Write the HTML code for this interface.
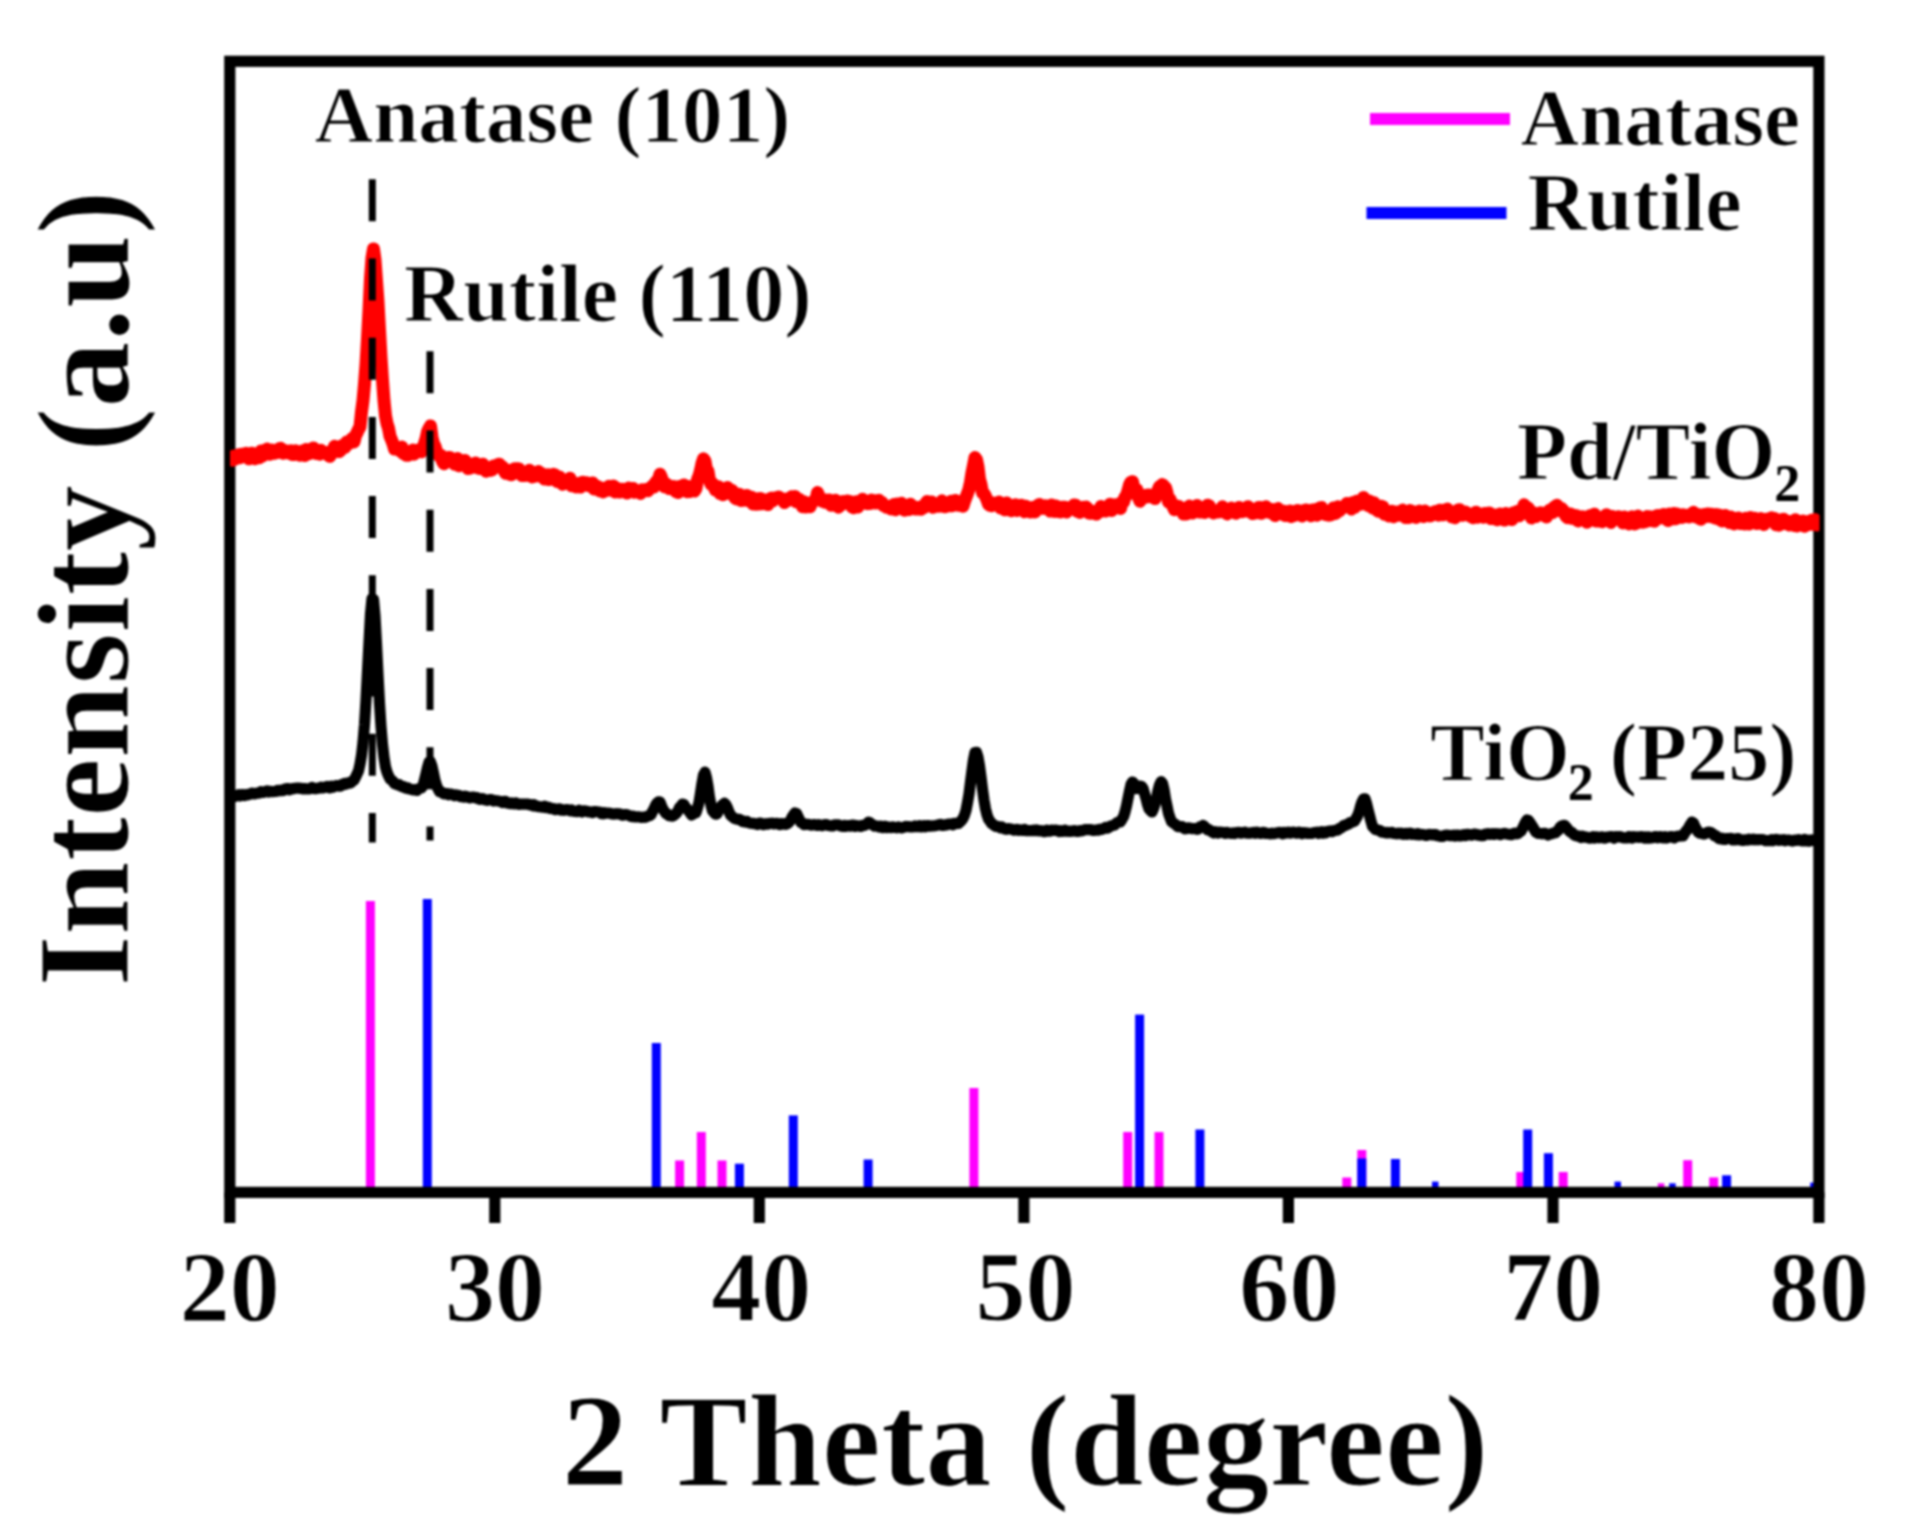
<!DOCTYPE html>
<html lang="en"><head><meta charset="utf-8"><title>XRD patterns of Pd/TiO2 and TiO2 (P25)</title>
<style>
html,body{margin:0;padding:0;background:#fff;}
body{width:1906px;height:1538px;overflow:hidden;}
svg{display:block;}
text{font-family:"Liberation Serif",serif;font-weight:bold;fill:#000;stroke:#fff;stroke-width:1.1px;}
.t82{font-size:82px;}
.sub{font-size:52px;stroke:none;}
.tick{font-size:100px;text-anchor:middle;}
.axis{font-size:132px;}
.t81{font-size:81.2px;}
</style></head><body>
<svg width="1906" height="1538" viewBox="0 0 1906 1538">
<rect x="0" y="0" width="1906" height="1538" fill="#ffffff"/>
<defs><filter id="soft" x="0" y="0" width="100%" height="100%" filterUnits="userSpaceOnUse" color-interpolation-filters="sRGB"><feGaussianBlur stdDeviation="1.0"/></filter></defs>
<g filter="url(#soft)">
<rect x="0" y="0" width="1906" height="1538" fill="#ffffff"/>
<g id="sticks">
<rect x="365.9" y="901.0" width="9.0" height="291.4" fill="#ff00ff"/>
<rect x="675.1" y="1160.5" width="9.0" height="31.9" fill="#ff00ff"/>
<rect x="696.8" y="1132.0" width="9.0" height="60.4" fill="#ff00ff"/>
<rect x="717.5" y="1160.5" width="9.0" height="31.9" fill="#ff00ff"/>
<rect x="969.4" y="1088.0" width="9.0" height="104.4" fill="#ff00ff"/>
<rect x="1123.2" y="1132.0" width="9.0" height="60.4" fill="#ff00ff"/>
<rect x="1154.5" y="1132.0" width="9.0" height="60.4" fill="#ff00ff"/>
<rect x="1342.3" y="1177.5" width="9.0" height="14.9" fill="#ff00ff"/>
<rect x="1357.3" y="1150.0" width="9.0" height="42.4" fill="#ff00ff"/>
<rect x="1516.3" y="1172.0" width="9.0" height="20.4" fill="#ff00ff"/>
<rect x="1558.7" y="1172.0" width="9.0" height="20.4" fill="#ff00ff"/>
<rect x="1657.8" y="1183.3" width="6.5" height="9.1" fill="#ff00ff"/>
<rect x="1683.2" y="1160.2" width="9.0" height="32.2" fill="#ff00ff"/>
<rect x="1709.2" y="1177.4" width="9.0" height="15.0" fill="#ff00ff"/>
<rect x="422.8" y="899.0" width="9.0" height="293.4" fill="#0000ff"/>
<rect x="651.8" y="1043.0" width="9.0" height="149.4" fill="#0000ff"/>
<rect x="734.9" y="1163.7" width="9.0" height="28.7" fill="#0000ff"/>
<rect x="788.8" y="1115.4" width="9.0" height="77.0" fill="#0000ff"/>
<rect x="863.6" y="1159.5" width="9.0" height="32.9" fill="#0000ff"/>
<rect x="1135.1" y="1014.6" width="9.0" height="177.8" fill="#0000ff"/>
<rect x="1195.4" y="1129.5" width="9.0" height="62.9" fill="#0000ff"/>
<rect x="1357.3" y="1158.5" width="9.0" height="33.9" fill="#0000ff"/>
<rect x="1390.9" y="1159.0" width="9.0" height="33.4" fill="#0000ff"/>
<rect x="1432.0" y="1181.6" width="6.5" height="10.8" fill="#0000ff"/>
<rect x="1523.2" y="1129.5" width="9.0" height="62.9" fill="#0000ff"/>
<rect x="1543.9" y="1153.2" width="9.0" height="39.2" fill="#0000ff"/>
<rect x="1614.5" y="1181.6" width="6.5" height="10.8" fill="#0000ff"/>
<rect x="1669.2" y="1183.3" width="6.5" height="9.1" fill="#0000ff"/>
<rect x="1722.1" y="1175.3" width="9.0" height="17.1" fill="#0000ff"/>
<rect x="1810.2" y="1182.6" width="6.5" height="9.8" fill="#0000ff"/>
</g>
<g id="frame" stroke="#000" fill="none" stroke-width="11.2">
<rect x="229.8" y="61.3" width="1589.1" height="1131.1"/>
<line x1="229.8" y1="1192.4" x2="229.8" y2="1223.0"/>
<line x1="494.8" y1="1192.4" x2="494.8" y2="1223.0"/>
<line x1="759.3" y1="1192.4" x2="759.3" y2="1223.0"/>
<line x1="1023.9" y1="1192.4" x2="1023.9" y2="1223.0"/>
<line x1="1288.4" y1="1192.4" x2="1288.4" y2="1223.0"/>
<line x1="1553.0" y1="1192.4" x2="1553.0" y2="1223.0"/>
<line x1="1818.9" y1="1192.4" x2="1818.9" y2="1223.0"/>
</g>
<defs><clipPath id="plotclip"><rect x="230" y="60" width="1589.5" height="1140"/></clipPath></defs>
<g clip-path="url(#plotclip)">
<path id="black-curve" d="M229.5 796.5 L231.0 796.7 L232.5 796.3 L234.0 796.4 L235.5 796.3 L237.0 795.2 L238.5 794.7 L240.0 795.9 L241.5 794.9 L243.0 794.5 L244.5 795.5 L246.0 794.6 L247.5 794.9 L249.0 794.2 L250.5 794.1 L252.0 793.1 L253.5 793.6 L255.0 793.9 L256.5 793.1 L258.0 793.2 L259.5 792.9 L261.0 791.7 L262.5 792.5 L264.0 792.2 L265.5 791.5 L267.0 790.8 L268.5 792.0 L270.0 791.3 L271.5 791.5 L273.0 791.7 L274.5 791.3 L276.0 791.4 L277.5 790.4 L279.0 790.8 L280.5 790.1 L282.0 790.7 L283.5 790.5 L285.0 789.0 L286.5 788.7 L288.0 788.7 L289.5 789.8 L291.0 788.9 L292.5 789.0 L294.0 788.3 L295.5 788.3 L297.0 788.1 L298.5 788.0 L300.0 788.4 L301.5 788.4 L303.0 788.9 L304.5 788.6 L306.0 788.9 L307.5 788.8 L309.0 789.0 L310.5 788.5 L312.0 787.5 L313.5 788.5 L315.0 788.7 L316.5 788.6 L318.0 788.0 L319.5 788.1 L321.0 787.2 L322.5 788.0 L324.0 787.6 L325.5 787.0 L327.0 786.4 L328.5 787.6 L330.0 787.9 L331.5 786.2 L333.0 787.1 L334.5 786.4 L336.0 785.6 L337.5 785.6 L339.0 786.1 L340.5 786.1 L342.0 784.4 L343.5 784.8 L345.0 783.5 L346.5 784.0 L348.0 782.9 L349.5 783.1 L351.0 782.6 L352.5 780.8 L354.0 780.1 L355.5 777.2 L357.0 774.1 L358.5 770.9 L360.0 764.1 L361.5 755.3 L363.0 742.5 L364.5 724.6 L366.0 700.1 L367.5 671.4 L369.0 642.2 L370.5 614.1 L372.0 598.5 L373.5 599.2 L375.0 616.0 L376.5 643.9 L378.0 674.6 L379.5 703.1 L381.0 726.5 L382.5 744.4 L384.0 757.5 L385.5 766.9 L387.0 772.1 L388.5 775.8 L390.0 778.9 L391.5 780.0 L393.0 781.4 L394.5 783.7 L396.0 784.0 L397.5 784.8 L399.0 784.6 L400.5 785.9 L402.0 786.8 L403.5 786.5 L405.0 787.8 L406.5 788.4 L408.0 787.9 L409.5 789.0 L411.0 789.2 L412.5 789.8 L414.0 789.5 L415.5 790.2 L417.0 790.3 L418.5 788.9 L420.0 788.2 L421.5 787.8 L423.0 785.6 L424.5 780.0 L426.0 773.9 L427.5 767.5 L429.0 762.3 L430.5 762.0 L432.0 766.4 L433.5 773.3 L435.0 780.5 L436.5 785.4 L438.0 788.9 L439.5 791.7 L441.0 791.6 L442.5 793.0 L444.0 793.9 L445.5 793.5 L447.0 793.5 L448.5 794.8 L450.0 794.2 L451.5 794.2 L453.0 794.9 L454.5 795.6 L456.0 794.9 L457.5 795.3 L459.0 795.6 L460.5 796.6 L462.0 796.3 L463.5 797.1 L465.0 796.2 L466.5 796.5 L468.0 797.3 L469.5 797.9 L471.0 797.4 L472.5 797.1 L474.0 797.1 L475.5 798.0 L477.0 797.7 L478.5 798.9 L480.0 799.3 L481.5 798.5 L483.0 798.7 L484.5 799.8 L486.0 799.9 L487.5 800.3 L489.0 799.8 L490.5 799.5 L492.0 799.9 L493.5 801.0 L495.0 800.5 L496.5 800.7 L498.0 801.0 L499.5 801.3 L501.0 801.5 L502.5 802.5 L504.0 801.6 L505.5 801.3 L507.0 803.0 L508.5 803.3 L510.0 803.7 L511.5 802.9 L513.0 803.8 L514.5 804.0 L516.0 803.0 L517.5 803.9 L519.0 804.3 L520.5 804.2 L522.0 804.1 L523.5 804.0 L525.0 804.1 L526.5 804.1 L528.0 804.0 L529.5 804.9 L531.0 804.7 L532.5 805.7 L534.0 804.7 L535.5 806.1 L537.0 806.1 L538.5 806.6 L540.0 806.8 L541.5 807.1 L543.0 806.9 L544.5 806.2 L546.0 807.6 L547.5 807.1 L549.0 807.5 L550.5 808.5 L552.0 808.6 L553.5 808.7 L555.0 809.7 L556.5 809.4 L558.0 809.0 L559.5 808.9 L561.0 810.1 L562.5 809.7 L564.0 810.3 L565.5 809.7 L567.0 809.5 L568.5 810.1 L570.0 810.8 L571.5 809.9 L573.0 811.0 L574.5 811.5 L576.0 811.4 L577.5 811.6 L579.0 810.3 L580.5 811.3 L582.0 812.0 L583.5 810.8 L585.0 811.1 L586.5 811.2 L588.0 811.8 L589.5 811.8 L591.0 812.0 L592.5 812.7 L594.0 811.6 L595.5 811.6 L597.0 811.8 L598.5 812.0 L600.0 812.0 L601.5 813.6 L603.0 813.8 L604.5 812.6 L606.0 813.3 L607.5 813.1 L609.0 813.2 L610.5 813.4 L612.0 814.0 L613.5 814.1 L615.0 813.9 L616.5 813.7 L618.0 814.0 L619.5 813.8 L621.0 814.6 L622.5 815.2 L624.0 814.9 L625.5 814.5 L627.0 814.8 L628.5 815.3 L630.0 816.0 L631.5 816.6 L633.0 816.1 L634.5 817.0 L636.0 817.0 L637.5 816.8 L639.0 816.8 L640.5 817.2 L642.0 817.5 L643.5 817.0 L645.0 817.3 L646.5 816.7 L648.0 815.9 L649.5 815.6 L651.0 814.7 L652.5 811.5 L654.0 808.9 L655.5 805.4 L657.0 803.0 L658.5 801.8 L660.0 802.1 L661.5 805.9 L663.0 809.3 L664.5 811.4 L666.0 813.6 L667.5 814.1 L669.0 815.7 L670.5 815.8 L672.0 816.1 L673.5 815.6 L675.0 814.4 L676.5 813.1 L678.0 810.8 L679.5 807.6 L681.0 806.2 L682.5 804.1 L684.0 804.6 L685.5 807.4 L687.0 808.7 L688.5 810.9 L690.0 812.6 L691.5 814.9 L693.0 814.2 L694.5 813.2 L696.0 812.7 L697.5 807.8 L699.0 802.4 L700.5 793.2 L702.0 783.2 L703.5 775.1 L705.0 772.2 L706.5 777.7 L708.0 786.2 L709.5 797.4 L711.0 805.3 L712.5 810.9 L714.0 812.6 L715.5 814.2 L717.0 813.9 L718.5 810.6 L720.0 808.2 L721.5 805.8 L723.0 804.4 L724.5 803.3 L726.0 804.9 L727.5 808.0 L729.0 811.9 L730.5 815.0 L732.0 816.5 L733.5 817.7 L735.0 818.6 L736.5 819.0 L738.0 819.4 L739.5 819.3 L741.0 820.3 L742.5 821.6 L744.0 821.2 L745.5 822.0 L747.0 821.4 L748.5 822.5 L750.0 823.1 L751.5 823.3 L753.0 823.4 L754.5 823.6 L756.0 824.0 L757.5 824.5 L759.0 823.3 L760.5 823.0 L762.0 824.1 L763.5 824.6 L765.0 823.9 L766.5 823.7 L768.0 824.2 L769.5 823.3 L771.0 823.4 L772.5 823.2 L774.0 823.9 L775.5 823.5 L777.0 823.3 L778.5 824.1 L780.0 824.6 L781.5 823.6 L783.0 824.1 L784.5 823.7 L786.0 824.3 L787.5 823.6 L789.0 822.3 L790.5 820.4 L792.0 817.3 L793.5 814.9 L795.0 813.0 L796.5 813.5 L798.0 816.7 L799.5 819.8 L801.0 822.7 L802.5 822.9 L804.0 824.7 L805.5 824.2 L807.0 824.4 L808.5 824.3 L810.0 825.0 L811.5 825.1 L813.0 824.8 L814.5 824.6 L816.0 825.1 L817.5 825.4 L819.0 824.7 L820.5 825.2 L822.0 825.7 L823.5 825.0 L825.0 824.5 L826.5 824.5 L828.0 825.4 L829.5 825.5 L831.0 826.0 L832.5 826.0 L834.0 825.0 L835.5 824.8 L837.0 824.9 L838.5 824.9 L840.0 825.8 L841.5 826.2 L843.0 826.4 L844.5 825.4 L846.0 826.3 L847.5 825.5 L849.0 825.6 L850.5 826.2 L852.0 825.2 L853.5 825.2 L855.0 826.4 L856.5 825.7 L858.0 825.8 L859.5 826.2 L861.0 826.5 L862.5 825.3 L864.0 825.5 L865.5 825.0 L867.0 823.8 L868.5 822.2 L870.0 822.6 L871.5 824.3 L873.0 824.9 L874.5 826.1 L876.0 825.8 L877.5 826.2 L879.0 826.9 L880.5 826.1 L882.0 827.4 L883.5 827.6 L885.0 826.3 L886.5 827.6 L888.0 826.9 L889.5 827.5 L891.0 827.6 L892.5 826.8 L894.0 827.4 L895.5 827.5 L897.0 827.8 L898.5 826.9 L900.0 827.5 L901.5 827.9 L903.0 827.4 L904.5 827.1 L906.0 826.3 L907.5 826.7 L909.0 826.5 L910.5 827.0 L912.0 827.0 L913.5 826.8 L915.0 826.0 L916.5 826.6 L918.0 826.7 L919.5 825.8 L921.0 826.9 L922.5 826.6 L924.0 825.6 L925.5 826.7 L927.0 825.5 L928.5 825.6 L930.0 826.2 L931.5 826.0 L933.0 825.8 L934.5 825.8 L936.0 825.5 L937.5 825.1 L939.0 824.7 L940.5 824.3 L942.0 825.3 L943.5 825.4 L945.0 824.9 L946.5 825.0 L948.0 824.3 L949.5 824.0 L951.0 824.1 L952.5 824.8 L954.0 823.4 L955.5 823.8 L957.0 823.1 L958.5 823.4 L960.0 822.0 L961.5 820.5 L963.0 818.4 L964.5 815.2 L966.0 810.4 L967.5 802.6 L969.0 794.0 L970.5 781.9 L972.0 770.4 L973.5 759.6 L975.0 752.5 L976.5 752.3 L978.0 757.2 L979.5 765.7 L981.0 777.1 L982.5 789.1 L984.0 800.1 L985.5 808.7 L987.0 814.9 L988.5 819.0 L990.0 821.2 L991.5 823.4 L993.0 824.3 L994.5 825.7 L996.0 826.4 L997.5 826.3 L999.0 826.7 L1000.5 827.9 L1002.0 827.0 L1003.5 828.4 L1005.0 829.0 L1006.5 829.3 L1008.0 828.6 L1009.5 828.9 L1011.0 829.1 L1012.5 829.4 L1014.0 830.1 L1015.5 829.9 L1017.0 829.3 L1018.5 830.3 L1020.0 829.9 L1021.5 830.1 L1023.0 830.5 L1024.5 829.4 L1026.0 830.6 L1027.5 830.7 L1029.0 830.5 L1030.5 830.7 L1032.0 830.6 L1033.5 830.2 L1035.0 830.7 L1036.5 829.9 L1038.0 830.6 L1039.5 831.0 L1041.0 830.7 L1042.5 830.9 L1044.0 831.6 L1045.5 831.6 L1047.0 830.3 L1048.5 831.2 L1050.0 831.1 L1051.5 830.1 L1053.0 830.4 L1054.5 830.3 L1056.0 830.0 L1057.5 830.8 L1059.0 831.5 L1060.5 830.6 L1062.0 831.4 L1063.5 831.2 L1065.0 830.2 L1066.5 831.3 L1068.0 831.0 L1069.5 831.5 L1071.0 831.2 L1072.5 831.2 L1074.0 830.5 L1075.5 831.1 L1077.0 831.4 L1078.5 831.3 L1080.0 830.5 L1081.5 830.9 L1083.0 830.5 L1084.5 829.8 L1086.0 829.5 L1087.5 829.5 L1089.0 829.7 L1090.5 829.6 L1092.0 830.1 L1093.5 830.5 L1095.0 830.2 L1096.5 829.9 L1098.0 830.2 L1099.5 829.4 L1101.0 829.2 L1102.5 829.3 L1104.0 828.4 L1105.5 827.5 L1107.0 828.2 L1108.5 827.6 L1110.0 826.4 L1111.5 825.8 L1113.0 825.4 L1114.5 824.9 L1116.0 823.6 L1117.5 822.4 L1119.0 822.0 L1120.5 821.9 L1122.0 819.2 L1123.5 816.7 L1125.0 812.0 L1126.5 805.9 L1128.0 798.4 L1129.5 791.0 L1131.0 784.5 L1132.5 782.0 L1134.0 783.7 L1135.5 786.5 L1137.0 788.7 L1138.5 787.7 L1140.0 786.2 L1141.5 786.3 L1143.0 788.4 L1144.5 793.5 L1146.0 798.4 L1147.5 804.5 L1149.0 808.8 L1150.5 810.5 L1152.0 812.0 L1153.5 808.7 L1155.0 803.9 L1156.5 798.3 L1158.0 790.7 L1159.5 785.0 L1161.0 781.7 L1162.5 783.3 L1164.0 789.5 L1165.5 798.8 L1167.0 806.0 L1168.5 813.3 L1170.0 817.6 L1171.5 821.6 L1173.0 822.7 L1174.5 823.8 L1176.0 824.7 L1177.5 826.4 L1179.0 826.7 L1180.5 826.7 L1182.0 826.5 L1183.5 827.8 L1185.0 828.8 L1186.5 828.6 L1188.0 827.8 L1189.5 828.0 L1191.0 828.4 L1192.5 828.7 L1194.0 828.7 L1195.5 828.6 L1197.0 829.3 L1198.5 829.0 L1200.0 826.7 L1201.5 826.7 L1203.0 825.5 L1204.5 826.5 L1206.0 828.1 L1207.5 829.8 L1209.0 829.6 L1210.5 830.8 L1212.0 831.9 L1213.5 832.9 L1215.0 831.7 L1216.5 832.0 L1218.0 833.1 L1219.5 832.0 L1221.0 832.4 L1222.5 832.3 L1224.0 832.9 L1225.5 833.4 L1227.0 832.3 L1228.5 833.0 L1230.0 833.2 L1231.5 833.4 L1233.0 832.9 L1234.5 833.5 L1236.0 832.7 L1237.5 832.6 L1239.0 832.3 L1240.5 833.2 L1242.0 832.9 L1243.5 832.5 L1245.0 832.2 L1246.5 833.1 L1248.0 833.1 L1249.5 833.3 L1251.0 832.8 L1252.5 832.9 L1254.0 832.3 L1255.5 833.2 L1257.0 832.2 L1258.5 832.8 L1260.0 833.4 L1261.5 833.3 L1263.0 832.4 L1264.5 832.5 L1266.0 833.5 L1267.5 833.3 L1269.0 833.7 L1270.5 833.8 L1272.0 833.1 L1273.5 833.7 L1275.0 833.5 L1276.5 832.8 L1278.0 832.8 L1279.5 832.3 L1281.0 832.7 L1282.5 833.8 L1284.0 832.5 L1285.5 833.1 L1287.0 832.4 L1288.5 832.2 L1290.0 833.2 L1291.5 832.6 L1293.0 832.2 L1294.5 832.3 L1296.0 833.2 L1297.5 833.2 L1299.0 832.2 L1300.5 832.5 L1302.0 833.7 L1303.5 832.7 L1305.0 833.1 L1306.5 832.9 L1308.0 833.5 L1309.5 833.3 L1311.0 833.5 L1312.5 833.2 L1314.0 832.5 L1315.5 832.4 L1317.0 832.2 L1318.5 833.4 L1320.0 832.2 L1321.5 831.7 L1323.0 833.1 L1324.5 831.9 L1326.0 832.7 L1327.5 831.3 L1329.0 831.5 L1330.5 830.9 L1332.0 831.6 L1333.5 830.9 L1335.0 830.4 L1336.5 830.2 L1338.0 829.9 L1339.5 828.3 L1341.0 827.9 L1342.5 826.8 L1344.0 825.3 L1345.5 825.6 L1347.0 824.5 L1348.5 824.1 L1350.0 822.5 L1351.5 822.4 L1353.0 821.7 L1354.5 821.2 L1356.0 818.5 L1357.5 816.0 L1359.0 812.1 L1360.5 806.3 L1362.0 801.9 L1363.5 798.9 L1365.0 798.8 L1366.5 803.3 L1368.0 809.6 L1369.5 815.5 L1371.0 821.2 L1372.5 826.4 L1374.0 828.0 L1375.5 829.5 L1377.0 829.8 L1378.5 830.4 L1380.0 830.6 L1381.5 832.1 L1383.0 832.1 L1384.5 832.4 L1386.0 832.8 L1387.5 832.4 L1389.0 833.0 L1390.5 832.5 L1392.0 832.4 L1393.5 833.4 L1395.0 833.5 L1396.5 833.8 L1398.0 833.1 L1399.5 833.6 L1401.0 833.2 L1402.5 834.2 L1404.0 834.3 L1405.5 833.4 L1407.0 834.4 L1408.5 833.4 L1410.0 833.2 L1411.5 834.3 L1413.0 833.9 L1414.5 834.3 L1416.0 834.7 L1417.5 833.8 L1419.0 834.9 L1420.5 834.4 L1422.0 834.6 L1423.5 834.6 L1425.0 835.3 L1426.5 835.4 L1428.0 834.7 L1429.5 834.3 L1431.0 834.7 L1432.5 834.9 L1434.0 834.5 L1435.5 834.6 L1437.0 835.7 L1438.5 835.8 L1440.0 836.3 L1441.5 836.4 L1443.0 836.3 L1444.5 835.5 L1446.0 835.1 L1447.5 835.2 L1449.0 835.4 L1450.5 835.6 L1452.0 835.6 L1453.5 835.2 L1455.0 836.0 L1456.5 835.1 L1458.0 835.2 L1459.5 836.0 L1461.0 835.9 L1462.5 835.0 L1464.0 834.7 L1465.5 835.6 L1467.0 834.4 L1468.5 834.4 L1470.0 835.0 L1471.5 835.1 L1473.0 834.4 L1474.5 834.1 L1476.0 834.3 L1477.5 835.2 L1479.0 834.8 L1480.5 835.6 L1482.0 835.4 L1483.5 835.6 L1485.0 834.0 L1486.5 834.0 L1488.0 833.7 L1489.5 834.3 L1491.0 834.2 L1492.5 833.7 L1494.0 834.4 L1495.5 833.7 L1497.0 833.9 L1498.5 833.8 L1500.0 834.7 L1501.5 834.1 L1503.0 833.7 L1504.5 833.3 L1506.0 833.8 L1507.5 834.2 L1509.0 834.3 L1510.5 834.7 L1512.0 834.6 L1513.5 833.5 L1515.0 833.0 L1516.5 833.8 L1518.0 833.5 L1519.5 832.1 L1521.0 831.1 L1522.5 828.5 L1524.0 825.3 L1525.5 822.3 L1527.0 819.9 L1528.5 820.5 L1530.0 822.5 L1531.5 825.1 L1533.0 827.2 L1534.5 829.9 L1536.0 832.2 L1537.5 833.2 L1539.0 833.5 L1540.5 833.5 L1542.0 833.8 L1543.5 833.3 L1545.0 833.4 L1546.5 834.3 L1548.0 835.0 L1549.5 834.3 L1551.0 833.9 L1552.5 833.4 L1554.0 833.0 L1555.5 832.8 L1557.0 831.1 L1558.5 830.3 L1560.0 827.4 L1561.5 826.0 L1563.0 825.5 L1564.5 825.3 L1566.0 827.0 L1567.5 828.7 L1569.0 830.8 L1570.5 832.1 L1572.0 832.5 L1573.5 834.4 L1575.0 835.4 L1576.5 835.8 L1578.0 835.9 L1579.5 836.8 L1581.0 837.5 L1582.5 836.3 L1584.0 837.2 L1585.5 836.9 L1587.0 837.2 L1588.5 837.9 L1590.0 838.1 L1591.5 837.6 L1593.0 836.8 L1594.5 837.9 L1596.0 836.8 L1597.5 837.0 L1599.0 837.8 L1600.5 837.0 L1602.0 836.9 L1603.5 838.0 L1605.0 838.2 L1606.5 837.1 L1608.0 837.1 L1609.5 836.9 L1611.0 836.6 L1612.5 836.8 L1614.0 838.1 L1615.5 836.7 L1617.0 836.8 L1618.5 836.7 L1620.0 836.5 L1621.5 837.3 L1623.0 837.7 L1624.5 838.0 L1626.0 837.7 L1627.5 837.9 L1629.0 836.6 L1630.5 836.9 L1632.0 838.0 L1633.5 836.7 L1635.0 836.9 L1636.5 837.2 L1638.0 836.9 L1639.5 837.4 L1641.0 836.6 L1642.5 836.8 L1644.0 838.0 L1645.5 836.9 L1647.0 838.0 L1648.5 836.9 L1650.0 838.1 L1651.5 837.8 L1653.0 837.7 L1654.5 836.8 L1656.0 836.5 L1657.5 837.7 L1659.0 836.8 L1660.5 836.7 L1662.0 837.8 L1663.5 838.0 L1665.0 836.6 L1666.5 838.0 L1668.0 837.4 L1669.5 837.1 L1671.0 836.5 L1672.5 836.9 L1674.0 837.9 L1675.5 836.8 L1677.0 836.3 L1678.5 836.2 L1680.0 835.9 L1681.5 835.8 L1683.0 836.0 L1684.5 833.3 L1686.0 831.2 L1687.5 829.6 L1689.0 826.9 L1690.5 824.3 L1692.0 822.1 L1693.5 823.1 L1695.0 826.7 L1696.5 829.1 L1698.0 832.0 L1699.5 833.1 L1701.0 833.3 L1702.5 833.8 L1704.0 834.1 L1705.5 833.5 L1707.0 832.6 L1708.5 832.1 L1710.0 832.3 L1711.5 832.9 L1713.0 834.0 L1714.5 835.7 L1716.0 835.7 L1717.5 837.2 L1719.0 838.5 L1720.5 838.9 L1722.0 838.1 L1723.5 839.5 L1725.0 839.5 L1726.5 838.5 L1728.0 838.5 L1729.5 838.5 L1731.0 838.3 L1732.5 839.9 L1734.0 839.2 L1735.5 839.9 L1737.0 838.8 L1738.5 838.5 L1740.0 839.9 L1741.5 840.1 L1743.0 840.5 L1744.5 840.1 L1746.0 839.8 L1747.5 840.1 L1749.0 839.1 L1750.5 839.7 L1752.0 839.6 L1753.5 839.1 L1755.0 839.8 L1756.5 839.5 L1758.0 839.8 L1759.5 839.6 L1761.0 839.5 L1762.5 839.5 L1764.0 840.0 L1765.5 840.7 L1767.0 840.7 L1768.5 840.6 L1770.0 840.6 L1771.5 839.7 L1773.0 840.7 L1774.5 839.7 L1776.0 839.3 L1777.5 839.9 L1779.0 840.4 L1780.5 839.8 L1782.0 840.2 L1783.5 839.7 L1785.0 840.8 L1786.5 840.1 L1788.0 840.1 L1789.5 840.1 L1791.0 840.8 L1792.5 841.1 L1794.0 840.3 L1795.5 840.1 L1797.0 840.4 L1798.5 839.5 L1800.0 840.0 L1801.5 840.8 L1803.0 840.8 L1804.5 839.6 L1806.0 840.8 L1807.5 840.2 L1809.0 841.1 L1810.5 840.2 L1812.0 839.8 L1813.5 840.3 L1815.0 841.0 L1816.5 840.3 L1818.0 841.0 L1819.5 840.8" fill="none" stroke="#000" stroke-width="11.2" stroke-linejoin="round" stroke-linecap="butt"/>
<path id="red-curve" d="M229.5 458.8 L231.0 456.9 L232.5 460.3 L234.0 456.1 L235.5 458.8 L237.0 457.7 L238.5 454.8 L240.0 457.7 L241.5 454.2 L243.0 456.5 L244.5 453.8 L246.0 453.3 L247.5 455.5 L249.0 458.8 L250.5 453.5 L252.0 453.2 L253.5 456.1 L255.0 458.7 L256.5 456.0 L258.0 453.9 L259.5 457.8 L261.0 450.9 L262.5 455.9 L264.0 452.0 L265.5 450.0 L267.0 449.2 L268.5 450.3 L270.0 454.2 L271.5 449.9 L273.0 452.4 L274.5 453.3 L276.0 451.3 L277.5 452.5 L279.0 448.9 L280.5 448.3 L282.0 449.4 L283.5 453.3 L285.0 451.9 L286.5 450.9 L288.0 452.8 L289.5 452.1 L291.0 450.8 L292.5 454.5 L294.0 454.4 L295.5 450.8 L297.0 452.7 L298.5 452.6 L300.0 455.3 L301.5 454.5 L303.0 450.8 L304.5 455.6 L306.0 449.5 L307.5 450.9 L309.0 453.7 L310.5 449.3 L312.0 451.2 L313.5 447.9 L315.0 452.2 L316.5 453.5 L318.0 452.1 L319.5 454.2 L321.0 450.3 L322.5 453.0 L324.0 453.0 L325.5 453.1 L327.0 452.4 L328.5 455.6 L330.0 456.3 L331.5 451.9 L333.0 451.9 L334.5 446.3 L336.0 449.7 L337.5 449.1 L339.0 451.6 L340.5 450.4 L342.0 445.8 L343.5 445.6 L345.0 447.3 L346.5 442.1 L348.0 444.2 L349.5 441.5 L351.0 439.9 L352.5 438.1 L354.0 442.0 L355.5 435.7 L357.0 432.9 L358.5 429.5 L360.0 426.9 L361.5 411.8 L363.0 400.6 L364.5 384.1 L366.0 364.6 L367.5 338.3 L369.0 310.2 L370.5 278.3 L372.0 257.8 L373.5 248.9 L375.0 259.7 L376.5 280.7 L378.0 301.6 L379.5 329.7 L381.0 357.0 L382.5 380.1 L384.0 400.6 L385.5 415.7 L387.0 423.5 L388.5 428.3 L390.0 436.2 L391.5 439.7 L393.0 443.7 L394.5 448.9 L396.0 448.8 L397.5 448.3 L399.0 449.8 L400.5 451.2 L402.0 447.1 L403.5 453.6 L405.0 454.1 L406.5 455.3 L408.0 455.2 L409.5 452.3 L411.0 452.2 L412.5 450.1 L414.0 454.2 L415.5 450.6 L417.0 450.3 L418.5 451.4 L420.0 451.1 L421.5 451.8 L423.0 447.9 L424.5 443.5 L426.0 438.8 L427.5 431.8 L429.0 428.5 L430.5 425.9 L432.0 437.2 L433.5 443.5 L435.0 446.3 L436.5 451.2 L438.0 454.8 L439.5 456.5 L441.0 455.4 L442.5 461.3 L444.0 463.7 L445.5 460.3 L447.0 460.3 L448.5 457.4 L450.0 457.4 L451.5 459.6 L453.0 459.6 L454.5 464.3 L456.0 460.0 L457.5 458.5 L459.0 465.8 L460.5 463.9 L462.0 460.8 L463.5 463.7 L465.0 460.4 L466.5 464.0 L468.0 468.4 L469.5 468.3 L471.0 467.3 L472.5 463.9 L474.0 464.4 L475.5 463.0 L477.0 467.7 L478.5 466.7 L480.0 468.6 L481.5 465.5 L483.0 464.3 L484.5 468.9 L486.0 471.1 L487.5 470.5 L489.0 470.2 L490.5 470.4 L492.0 469.9 L493.5 466.0 L495.0 467.8 L496.5 466.9 L498.0 464.5 L499.5 464.3 L501.0 466.4 L502.5 466.8 L504.0 470.5 L505.5 473.3 L507.0 469.9 L508.5 473.5 L510.0 474.6 L511.5 474.7 L513.0 470.4 L514.5 468.8 L516.0 468.8 L517.5 468.8 L519.0 469.0 L520.5 472.6 L522.0 475.5 L523.5 475.6 L525.0 472.9 L526.5 474.0 L528.0 475.5 L529.5 470.2 L531.0 474.1 L532.5 476.8 L534.0 476.3 L535.5 476.1 L537.0 474.1 L538.5 471.6 L540.0 476.2 L541.5 473.4 L543.0 477.0 L544.5 479.0 L546.0 475.1 L547.5 474.9 L549.0 479.6 L550.5 478.9 L552.0 474.8 L553.5 474.3 L555.0 474.8 L556.5 481.1 L558.0 481.7 L559.5 477.0 L561.0 482.0 L562.5 484.3 L564.0 482.5 L565.5 480.2 L567.0 481.8 L568.5 479.2 L570.0 478.3 L571.5 485.8 L573.0 484.6 L574.5 483.6 L576.0 486.9 L577.5 483.6 L579.0 486.8 L580.5 487.1 L582.0 482.5 L583.5 482.3 L585.0 482.8 L586.5 482.7 L588.0 485.6 L589.5 483.6 L591.0 484.8 L592.5 482.9 L594.0 488.9 L595.5 485.7 L597.0 486.3 L598.5 487.8 L600.0 491.0 L601.5 488.1 L603.0 491.9 L604.5 489.6 L606.0 489.9 L607.5 490.2 L609.0 486.3 L610.5 489.1 L612.0 487.5 L613.5 485.9 L615.0 492.0 L616.5 488.0 L618.0 489.9 L619.5 492.1 L621.0 491.2 L622.5 489.3 L624.0 490.6 L625.5 491.1 L627.0 493.1 L628.5 488.1 L630.0 490.8 L631.5 488.7 L633.0 488.5 L634.5 492.2 L636.0 490.6 L637.5 490.7 L639.0 492.1 L640.5 493.4 L642.0 489.8 L643.5 490.4 L645.0 489.7 L646.5 489.5 L648.0 490.7 L649.5 488.5 L651.0 487.9 L652.5 485.8 L654.0 487.0 L655.5 482.7 L657.0 480.9 L658.5 479.6 L660.0 474.2 L661.5 477.6 L663.0 483.8 L664.5 486.7 L666.0 483.8 L667.5 484.8 L669.0 488.5 L670.5 486.7 L672.0 487.8 L673.5 486.4 L675.0 490.6 L676.5 491.8 L678.0 492.6 L679.5 486.6 L681.0 489.7 L682.5 489.4 L684.0 484.9 L685.5 490.1 L687.0 491.8 L688.5 486.4 L690.0 491.4 L691.5 487.8 L693.0 487.8 L694.5 491.0 L696.0 488.4 L697.5 479.7 L699.0 475.9 L700.5 470.5 L702.0 463.3 L703.5 458.8 L705.0 461.1 L706.5 469.6 L708.0 471.2 L709.5 480.4 L711.0 484.2 L712.5 483.4 L714.0 486.8 L715.5 490.1 L717.0 490.0 L718.5 486.7 L720.0 493.6 L721.5 493.2 L723.0 494.8 L724.5 488.5 L726.0 489.0 L727.5 487.5 L729.0 493.3 L730.5 491.0 L732.0 490.3 L733.5 493.2 L735.0 498.2 L736.5 498.9 L738.0 495.4 L739.5 494.3 L741.0 500.5 L742.5 499.1 L744.0 500.2 L745.5 496.0 L747.0 495.5 L748.5 500.7 L750.0 499.8 L751.5 497.2 L753.0 504.0 L754.5 503.0 L756.0 504.2 L757.5 498.7 L759.0 503.9 L760.5 498.4 L762.0 503.8 L763.5 501.4 L765.0 500.1 L766.5 501.5 L768.0 504.6 L769.5 499.9 L771.0 498.1 L772.5 500.9 L774.0 499.0 L775.5 497.7 L777.0 497.9 L778.5 497.0 L780.0 498.0 L781.5 499.0 L783.0 499.1 L784.5 502.6 L786.0 499.4 L787.5 500.6 L789.0 498.2 L790.5 499.1 L792.0 496.7 L793.5 498.1 L795.0 496.4 L796.5 501.7 L798.0 501.6 L799.5 499.5 L801.0 502.1 L802.5 506.8 L804.0 501.7 L805.5 506.9 L807.0 504.5 L808.5 504.5 L810.0 506.8 L811.5 503.0 L813.0 501.7 L814.5 500.4 L816.0 499.6 L817.5 492.6 L819.0 496.2 L820.5 498.5 L822.0 501.1 L823.5 501.5 L825.0 502.1 L826.5 500.1 L828.0 500.5 L829.5 500.1 L831.0 505.3 L832.5 502.3 L834.0 501.1 L835.5 500.3 L837.0 506.1 L838.5 507.1 L840.0 505.7 L841.5 502.4 L843.0 501.6 L844.5 501.9 L846.0 503.2 L847.5 501.0 L849.0 502.9 L850.5 501.7 L852.0 506.9 L853.5 507.8 L855.0 504.6 L856.5 501.7 L858.0 506.9 L859.5 502.5 L861.0 502.1 L862.5 499.3 L864.0 501.9 L865.5 503.1 L867.0 503.6 L868.5 501.4 L870.0 503.6 L871.5 500.1 L873.0 501.7 L874.5 500.7 L876.0 503.1 L877.5 500.8 L879.0 500.4 L880.5 502.6 L882.0 502.5 L883.5 505.4 L885.0 505.5 L886.5 507.3 L888.0 507.0 L889.5 507.5 L891.0 508.9 L892.5 505.4 L894.0 504.5 L895.5 509.7 L897.0 504.0 L898.5 507.7 L900.0 507.8 L901.5 503.2 L903.0 508.8 L904.5 510.2 L906.0 508.4 L907.5 508.9 L909.0 509.5 L910.5 504.2 L912.0 506.3 L913.5 506.4 L915.0 509.0 L916.5 509.0 L918.0 509.1 L919.5 507.2 L921.0 509.2 L922.5 507.8 L924.0 507.6 L925.5 503.8 L927.0 501.6 L928.5 502.0 L930.0 503.8 L931.5 501.9 L933.0 507.3 L934.5 505.8 L936.0 506.1 L937.5 506.0 L939.0 506.3 L940.5 504.9 L942.0 500.8 L943.5 506.4 L945.0 506.8 L946.5 504.9 L948.0 504.8 L949.5 505.8 L951.0 501.2 L952.5 505.7 L954.0 502.5 L955.5 500.5 L957.0 501.6 L958.5 505.2 L960.0 501.4 L961.5 504.6 L963.0 506.2 L964.5 501.3 L966.0 497.2 L967.5 493.5 L969.0 489.1 L970.5 482.1 L972.0 472.6 L973.5 465.4 L975.0 457.6 L976.5 459.6 L978.0 466.9 L979.5 479.2 L981.0 484.6 L982.5 492.9 L984.0 493.6 L985.5 496.4 L987.0 499.8 L988.5 504.2 L990.0 505.4 L991.5 505.7 L993.0 503.0 L994.5 504.5 L996.0 504.4 L997.5 504.5 L999.0 502.0 L1000.5 507.8 L1002.0 503.5 L1003.5 509.1 L1005.0 509.8 L1006.5 502.9 L1008.0 505.5 L1009.5 508.9 L1011.0 510.7 L1012.5 507.1 L1014.0 505.3 L1015.5 504.7 L1017.0 510.5 L1018.5 505.8 L1020.0 508.2 L1021.5 505.2 L1023.0 507.9 L1024.5 511.8 L1026.0 506.2 L1027.5 510.8 L1029.0 509.3 L1030.5 512.1 L1032.0 511.2 L1033.5 507.3 L1035.0 511.9 L1036.5 509.3 L1038.0 505.3 L1039.5 504.5 L1041.0 508.2 L1042.5 508.4 L1044.0 507.2 L1045.5 505.7 L1047.0 507.1 L1048.5 507.0 L1050.0 511.1 L1051.5 505.1 L1053.0 510.0 L1054.5 511.4 L1056.0 506.0 L1057.5 511.4 L1059.0 510.6 L1060.5 511.9 L1062.0 507.2 L1063.5 507.2 L1065.0 507.3 L1066.5 512.1 L1068.0 509.7 L1069.5 507.7 L1071.0 507.9 L1072.5 506.9 L1074.0 505.0 L1075.5 505.2 L1077.0 511.1 L1078.5 507.7 L1080.0 512.4 L1081.5 507.8 L1083.0 507.3 L1084.5 509.2 L1086.0 507.1 L1087.5 508.3 L1089.0 513.1 L1090.5 513.3 L1092.0 512.8 L1093.5 511.4 L1095.0 513.5 L1096.5 514.1 L1098.0 511.2 L1099.5 511.9 L1101.0 506.5 L1102.5 510.9 L1104.0 509.1 L1105.5 510.9 L1107.0 510.1 L1108.5 506.9 L1110.0 504.3 L1111.5 510.5 L1113.0 504.9 L1114.5 506.5 L1116.0 505.3 L1117.5 504.4 L1119.0 507.0 L1120.5 508.5 L1122.0 501.9 L1123.5 502.2 L1125.0 497.2 L1126.5 495.5 L1128.0 490.6 L1129.5 485.0 L1131.0 482.0 L1132.5 481.7 L1134.0 488.8 L1135.5 489.3 L1137.0 489.9 L1138.5 497.7 L1140.0 501.2 L1141.5 498.5 L1143.0 496.2 L1144.5 496.4 L1146.0 495.5 L1147.5 497.0 L1149.0 495.0 L1150.5 495.9 L1152.0 495.9 L1153.5 497.4 L1155.0 498.6 L1156.5 495.6 L1158.0 490.1 L1159.5 486.8 L1161.0 485.7 L1162.5 484.6 L1164.0 486.3 L1165.5 487.6 L1167.0 492.8 L1168.5 502.0 L1170.0 499.2 L1171.5 503.5 L1173.0 506.5 L1174.5 509.7 L1176.0 505.8 L1177.5 506.2 L1179.0 506.6 L1180.5 508.4 L1182.0 509.5 L1183.5 514.0 L1185.0 513.9 L1186.5 513.9 L1188.0 507.1 L1189.5 506.1 L1191.0 511.1 L1192.5 513.1 L1194.0 510.0 L1195.5 510.2 L1197.0 505.5 L1198.5 507.7 L1200.0 512.1 L1201.5 511.8 L1203.0 511.8 L1204.5 512.6 L1206.0 506.9 L1207.5 505.2 L1209.0 505.5 L1210.5 508.5 L1212.0 510.4 L1213.5 512.9 L1215.0 511.7 L1216.5 511.1 L1218.0 512.1 L1219.5 510.0 L1221.0 510.5 L1222.5 506.8 L1224.0 512.2 L1225.5 508.9 L1227.0 513.9 L1228.5 512.6 L1230.0 509.9 L1231.5 508.3 L1233.0 509.2 L1234.5 512.4 L1236.0 513.2 L1237.5 508.6 L1239.0 507.5 L1240.5 510.8 L1242.0 511.6 L1243.5 510.1 L1245.0 508.5 L1246.5 511.1 L1248.0 506.7 L1249.5 508.2 L1251.0 509.6 L1252.5 513.6 L1254.0 511.6 L1255.5 513.0 L1257.0 509.9 L1258.5 507.6 L1260.0 507.6 L1261.5 513.3 L1263.0 512.4 L1264.5 509.3 L1266.0 506.8 L1267.5 510.4 L1269.0 512.4 L1270.5 511.0 L1272.0 509.6 L1273.5 512.8 L1275.0 515.5 L1276.5 510.6 L1278.0 508.6 L1279.5 510.8 L1281.0 512.0 L1282.5 514.4 L1284.0 511.2 L1285.5 515.5 L1287.0 515.6 L1288.5 513.7 L1290.0 511.0 L1291.5 516.5 L1293.0 512.1 L1294.5 515.4 L1296.0 511.2 L1297.5 510.4 L1299.0 514.4 L1300.5 511.3 L1302.0 516.0 L1303.5 513.0 L1305.0 510.1 L1306.5 509.9 L1308.0 511.3 L1309.5 513.4 L1311.0 515.8 L1312.5 509.9 L1314.0 510.8 L1315.5 509.5 L1317.0 515.2 L1318.5 509.5 L1320.0 507.8 L1321.5 507.5 L1323.0 510.0 L1324.5 514.2 L1326.0 514.7 L1327.5 513.5 L1329.0 515.2 L1330.5 514.9 L1332.0 510.0 L1333.5 508.0 L1335.0 513.5 L1336.5 512.7 L1338.0 506.8 L1339.5 510.6 L1341.0 508.7 L1342.5 508.0 L1344.0 507.2 L1345.5 505.5 L1347.0 503.5 L1348.5 504.9 L1350.0 505.0 L1351.5 509.1 L1353.0 502.5 L1354.5 507.4 L1356.0 501.5 L1357.5 501.1 L1359.0 504.2 L1360.5 504.3 L1362.0 501.0 L1363.5 497.5 L1365.0 500.5 L1366.5 500.6 L1368.0 505.4 L1369.5 501.1 L1371.0 502.6 L1372.5 507.9 L1374.0 502.7 L1375.5 505.8 L1377.0 510.2 L1378.5 511.3 L1380.0 506.4 L1381.5 506.3 L1383.0 507.0 L1384.5 514.2 L1386.0 510.5 L1387.5 514.1 L1389.0 516.0 L1390.5 512.2 L1392.0 511.3 L1393.5 516.7 L1395.0 515.0 L1396.5 512.1 L1398.0 515.3 L1399.5 512.8 L1401.0 512.3 L1402.5 510.1 L1404.0 515.5 L1405.5 517.5 L1407.0 515.5 L1408.5 517.5 L1410.0 510.6 L1411.5 511.1 L1413.0 512.9 L1414.5 516.9 L1416.0 517.4 L1417.5 512.9 L1419.0 511.1 L1420.5 512.2 L1422.0 512.8 L1423.5 516.4 L1425.0 511.1 L1426.5 515.1 L1428.0 515.3 L1429.5 515.9 L1431.0 515.7 L1432.5 514.4 L1434.0 512.0 L1435.5 511.6 L1437.0 511.9 L1438.5 515.2 L1440.0 510.2 L1441.5 510.4 L1443.0 514.8 L1444.5 511.5 L1446.0 509.6 L1447.5 509.1 L1449.0 513.1 L1450.5 511.9 L1452.0 516.9 L1453.5 516.9 L1455.0 517.7 L1456.5 512.2 L1458.0 510.0 L1459.5 509.8 L1461.0 513.1 L1462.5 515.3 L1464.0 513.7 L1465.5 511.9 L1467.0 513.2 L1468.5 515.0 L1470.0 515.9 L1471.5 516.7 L1473.0 517.7 L1474.5 516.5 L1476.0 512.2 L1477.5 517.2 L1479.0 513.8 L1480.5 515.6 L1482.0 514.4 L1483.5 517.2 L1485.0 513.5 L1486.5 513.4 L1488.0 513.5 L1489.5 512.9 L1491.0 518.6 L1492.5 517.1 L1494.0 514.9 L1495.5 515.1 L1497.0 519.8 L1498.5 516.7 L1500.0 514.1 L1501.5 518.2 L1503.0 517.6 L1504.5 520.1 L1506.0 513.5 L1507.5 515.4 L1509.0 518.4 L1510.5 519.0 L1512.0 519.6 L1513.5 512.8 L1515.0 513.5 L1516.5 511.9 L1518.0 511.3 L1519.5 515.8 L1521.0 511.1 L1522.5 510.7 L1524.0 504.8 L1525.5 508.1 L1527.0 507.4 L1528.5 508.3 L1530.0 514.5 L1531.5 518.0 L1533.0 512.6 L1534.5 515.9 L1536.0 516.6 L1537.5 513.6 L1539.0 514.4 L1540.5 512.8 L1542.0 513.1 L1543.5 513.5 L1545.0 516.2 L1546.5 516.9 L1548.0 513.0 L1549.5 510.2 L1551.0 511.1 L1552.5 512.6 L1554.0 507.4 L1555.5 506.5 L1557.0 505.2 L1558.5 510.3 L1560.0 510.6 L1561.5 508.5 L1563.0 510.0 L1564.5 513.7 L1566.0 516.2 L1567.5 517.7 L1569.0 513.9 L1570.5 514.0 L1572.0 518.3 L1573.5 516.8 L1575.0 515.6 L1576.5 515.7 L1578.0 520.9 L1579.5 516.7 L1581.0 518.1 L1582.5 516.8 L1584.0 517.1 L1585.5 520.7 L1587.0 522.3 L1588.5 517.7 L1590.0 515.7 L1591.5 519.7 L1593.0 516.2 L1594.5 514.2 L1596.0 521.0 L1597.5 518.3 L1599.0 521.0 L1600.5 518.3 L1602.0 521.7 L1603.5 518.9 L1605.0 516.2 L1606.5 514.7 L1608.0 518.8 L1609.5 520.1 L1611.0 522.5 L1612.5 516.5 L1614.0 519.8 L1615.5 518.4 L1617.0 519.3 L1618.5 516.7 L1620.0 517.4 L1621.5 519.4 L1623.0 522.9 L1624.5 517.1 L1626.0 519.3 L1627.5 522.2 L1629.0 523.9 L1630.5 518.2 L1632.0 516.7 L1633.5 522.8 L1635.0 523.9 L1636.5 520.1 L1638.0 516.1 L1639.5 522.2 L1641.0 518.8 L1642.5 522.2 L1644.0 520.4 L1645.5 521.7 L1647.0 516.6 L1648.5 520.6 L1650.0 516.7 L1651.5 517.4 L1653.0 520.9 L1654.5 521.2 L1656.0 516.1 L1657.5 515.5 L1659.0 516.7 L1660.5 517.8 L1662.0 516.8 L1663.5 514.5 L1665.0 515.0 L1666.5 518.7 L1668.0 520.5 L1669.5 514.0 L1671.0 517.0 L1672.5 518.9 L1674.0 513.5 L1675.5 518.8 L1677.0 513.9 L1678.5 516.8 L1680.0 516.8 L1681.5 517.3 L1683.0 514.8 L1684.5 515.2 L1686.0 516.4 L1687.5 515.3 L1689.0 516.9 L1690.5 515.6 L1692.0 515.5 L1693.5 512.3 L1695.0 516.6 L1696.5 516.4 L1698.0 514.4 L1699.5 518.4 L1701.0 519.2 L1702.5 516.9 L1704.0 514.5 L1705.5 516.6 L1707.0 514.1 L1708.5 514.0 L1710.0 516.5 L1711.5 514.3 L1713.0 516.9 L1714.5 517.9 L1716.0 514.5 L1717.5 518.7 L1719.0 515.1 L1720.5 519.8 L1722.0 521.0 L1723.5 519.2 L1725.0 515.4 L1726.5 518.5 L1728.0 518.1 L1729.5 522.6 L1731.0 517.0 L1732.5 521.9 L1734.0 523.9 L1735.5 522.2 L1737.0 522.6 L1738.5 517.9 L1740.0 523.4 L1741.5 520.5 L1743.0 523.7 L1744.5 524.0 L1746.0 518.2 L1747.5 522.3 L1749.0 524.1 L1750.5 517.6 L1752.0 519.0 L1753.5 522.4 L1755.0 518.3 L1756.5 523.5 L1758.0 519.5 L1759.5 523.2 L1761.0 518.6 L1762.5 520.7 L1764.0 524.4 L1765.5 519.4 L1767.0 519.2 L1768.5 521.1 L1770.0 520.0 L1771.5 517.7 L1773.0 518.5 L1774.5 518.6 L1776.0 524.7 L1777.5 523.7 L1779.0 525.3 L1780.5 519.9 L1782.0 523.9 L1783.5 519.3 L1785.0 521.9 L1786.5 523.2 L1788.0 521.2 L1789.5 525.0 L1791.0 523.1 L1792.5 523.0 L1794.0 525.4 L1795.5 519.7 L1797.0 525.9 L1798.5 524.0 L1800.0 521.9 L1801.5 524.8 L1803.0 521.1 L1804.5 526.2 L1806.0 523.8 L1807.5 521.8 L1809.0 524.6 L1810.5 522.6 L1812.0 520.2 L1813.5 524.4 L1815.0 519.6 L1816.5 524.9 L1818.0 521.3 L1819.5 523.8" fill="none" stroke="#ff0000" stroke-width="13" stroke-linejoin="round" stroke-linecap="butt"/>
</g>
<g id="guides" stroke="#000" stroke-width="7" stroke-dasharray="42 37.2" fill="none">
<line x1="372.3" y1="179.3" x2="372.3" y2="842.5"/>
<line x1="430" y1="351.3" x2="430" y2="840.4"/>
</g>
<g id="legend">
<rect x="1370" y="113" width="140" height="12" fill="#ff00ff"/>
<rect x="1366.5" y="207" width="140" height="12" fill="#0000ff"/>
<text class="t81" x="1520.5" y="145.2">Anatase</text>
<text class="t82" x="1527.5" y="229.9">Rutile</text>
</g>
<text class="t81" x="314.5" y="142.4">Anatase (101)</text>
<text class="t82" x="404" y="321.3">Rutile (110)</text>
<text class="t82" x="1517" y="479.2">Pd/TiO<tspan class="sub" dx="-1" dy="22">2</tspan></text>
<text class="t82" x="1430" y="780">TiO<tspan class="sub" dx="-2" dy="20.4">2</tspan><tspan dx="-4.5" dy="-20.4"> (P25)</tspan></text>
<text class="tick" x="229.8" y="1319.8">20</text>
<text class="tick" x="495.1" y="1319.8">30</text>
<text class="tick" x="761.2" y="1319.8">40</text>
<text class="tick" x="1025.4" y="1319.8">50</text>
<text class="tick" x="1289.2" y="1319.8">60</text>
<text class="tick" x="1553.2" y="1319.8">70</text>
<text class="tick" x="1818.9" y="1319.8">80</text>
<text class="axis" x="562" y="1484.5" style="letter-spacing:0.5px">2 Theta (degree)</text>
<text class="axis" transform="translate(127.8 986.5) rotate(-90)" x="0" y="0" style="letter-spacing:0.3px">Intensity (a.u)</text>
</g>
</svg>
</body></html>
